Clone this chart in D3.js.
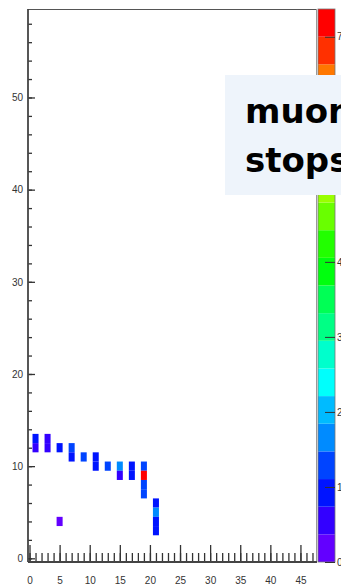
<!DOCTYPE html>
<html><head><meta charset="utf-8">
<script src="https://cdn.jsdelivr.net/npm/d3@7"></script>
<style>body{margin:0;background:#fff;overflow:hidden}svg{display:block}</style>
</head><body>
<svg id="c" width="341" height="586"></svg>
<script>
// ---- data ----
const cellX = [1, 1, 3, 3, 5, 5, 7, 7, 9, 11, 11, 13, 15, 15, 17, 17, 19, 19, 19, 19, 21, 21, 21, 21];
const cellY = [13, 12, 13, 12, 12, 4, 12, 11, 11, 11, 10, 10, 10, 9, 10, 9, 10, 9, 8, 7, 6, 5, 4, 3];
const cellZ = [0.9, 0.6, 0.6, 0.7, 0.9, 0.3, 1.3, 0.8, 1.3, 1.0, 0.9, 1.3, 1.7, 0.5, 1.1, 0.9, 1.2, 7.3, 1.3, 1.4, 1.0, 1.7, 1.1, 0.8];
const xMajorTicks = [0, 5, 10, 15, 20, 25, 30, 35, 40, 45];
const yMajorTicks = [0, 10, 20, 30, 40, 50];
const zTicks = [0, 1, 2, 3, 4, 7];
const zMax = 7.37;
const nContours = 20;
const boxLines = ["muon", "stops"];

// ---- layout ----
const svg = d3.select("#c");
const L = 28, R = 317, T = 9, B = 562;
const x = d3.scaleLinear().domain([-0.25, 47.75]).range([L, R]);
const y = d3.scaleLinear().domain([-0.4, 59.6]).range([B, T]);
const z = d3.scaleLinear().domain([0, zMax]).range([B, T]);

// ROOT "pretty" palette (50 colours, hue 280 -> 0) with 20 contours
function bandColor(k) {
  const i = Math.floor((k + 0.99) * 50 / nContours);
  const hue = 280 - (i + 1) * (280 / 50);
  return d3.hsl(hue, 1, 0.5).formatRgb();
}
function zColor(v) {
  let k = Math.floor(v / zMax * nContours);
  k = Math.max(0, Math.min(nContours - 1, k));
  return bandColor(k);
}

// cells
svg.append("g").selectAll("rect").data(cellX.map((cx, i) => ({x: cx, y: cellY[i], z: cellZ[i]})))
  .join("rect")
  .attr("x", d => x(d.x - 0.5))
  .attr("width", d => x(d.x + 0.5) - x(d.x - 0.5))
  .attr("y", d => y(d.y + 0.5))
  .attr("height", d => y(d.y - 0.5) - y(d.y + 0.5))
  .attr("fill", d => zColor(d.z));

// frame
svg.append("line").attr("x1", L).attr("x2", R).attr("y1", T + 0.5).attr("y2", T + 0.5).attr("stroke", "#555").attr("stroke-width", 1.2);
svg.append("line").attr("x1", R - 0.5).attr("x2", R - 0.5).attr("y1", T).attr("y2", B).attr("stroke", "#999").attr("stroke-width", 1);

// y axis
const gy = svg.append("g").attr("transform", `translate(${L},0)`)
  .style("font-family", "Liberation Sans, Arial, sans-serif").style("font-size", "10px");
gy.call(d3.axisLeft(y).tickValues(d3.range(0, 60, 2)).tickSizeInner(-4).tickSizeOuter(0).tickFormat(""));
gy.append("g").call(d3.axisLeft(y).tickValues(yMajorTicks).tickSizeInner(-7).tickSizeOuter(0).tickPadding(5));
gy.selectAll(".domain").remove();
gy.selectAll("line").attr("stroke", "#333").attr("stroke-width", 1.3);
gy.selectAll("text").attr("fill", "#333");
svg.append("line").attr("x1", L).attr("x2", L).attr("y1", T).attr("y2", B).attr("stroke", "#444").attr("stroke-width", 1.8);

// x axis
const gx = svg.append("g").attr("transform", `translate(0,${B})`)
  .style("font-family", "Liberation Sans, Arial, sans-serif").style("font-size", "10px");
gx.call(d3.axisBottom(x).tickValues(d3.range(0, 48, 1)).tickSizeInner(-9).tickSizeOuter(0).tickFormat(""));
gx.append("g").call(d3.axisBottom(x).tickValues(xMajorTicks).tickSizeInner(-17).tickSizeOuter(0).tickPadding(15));
gx.selectAll(".domain").remove();
gx.selectAll("line").attr("stroke", "#333").attr("stroke-width", 1.3);
gx.selectAll("text").attr("fill", "#333");
svg.append("line").attr("x1", L).attr("x2", R).attr("y1", B).attr("y2", B).attr("stroke", "#444").attr("stroke-width", 1.8);

// palette
const PL = 318, PR = 335;
svg.append("g").selectAll("rect").data(d3.range(nContours)).join("rect")
  .attr("x", PL).attr("width", PR - PL)
  .attr("y", k => z((k + 1) * zMax / nContours))
  .attr("height", k => z(k * zMax / nContours) - z((k + 1) * zMax / nContours))
  .attr("fill", k => bandColor(k));
svg.append("rect").attr("x", PL).attr("y", T).attr("width", PR - PL).attr("height", B - T)
  .attr("fill", "none").attr("stroke", "#777").attr("stroke-width", 0.8);
const gz = svg.append("g").attr("transform", `translate(${PR},0)`)
  .style("font-family", "Liberation Sans, Arial, sans-serif").style("font-size", "10px");
gz.call(d3.axisRight(z).tickValues(zTicks).tickSizeInner(-10).tickSizeOuter(0).tickPadding(2));
gz.selectAll(".domain").remove();
gz.selectAll("line").attr("stroke", "#333").attr("stroke-width", 1);
gz.selectAll("text").attr("fill", "#333");

// text box
svg.append("rect").attr("x", 225).attr("y", 75).attr("width", 130).attr("height", 120).attr("fill", "#eef4fb");
svg.append("g").selectAll("text").data(boxLines).join("text")
  .attr("x", 245).attr("y", (d, i) => 123 + i * 49)
  .attr("font-family", "DejaVu Sans, sans-serif").attr("font-weight", "bold")
  .attr("font-size", 34).attr("fill", "#000")
  .text(d => d);
</script>
</body></html>
